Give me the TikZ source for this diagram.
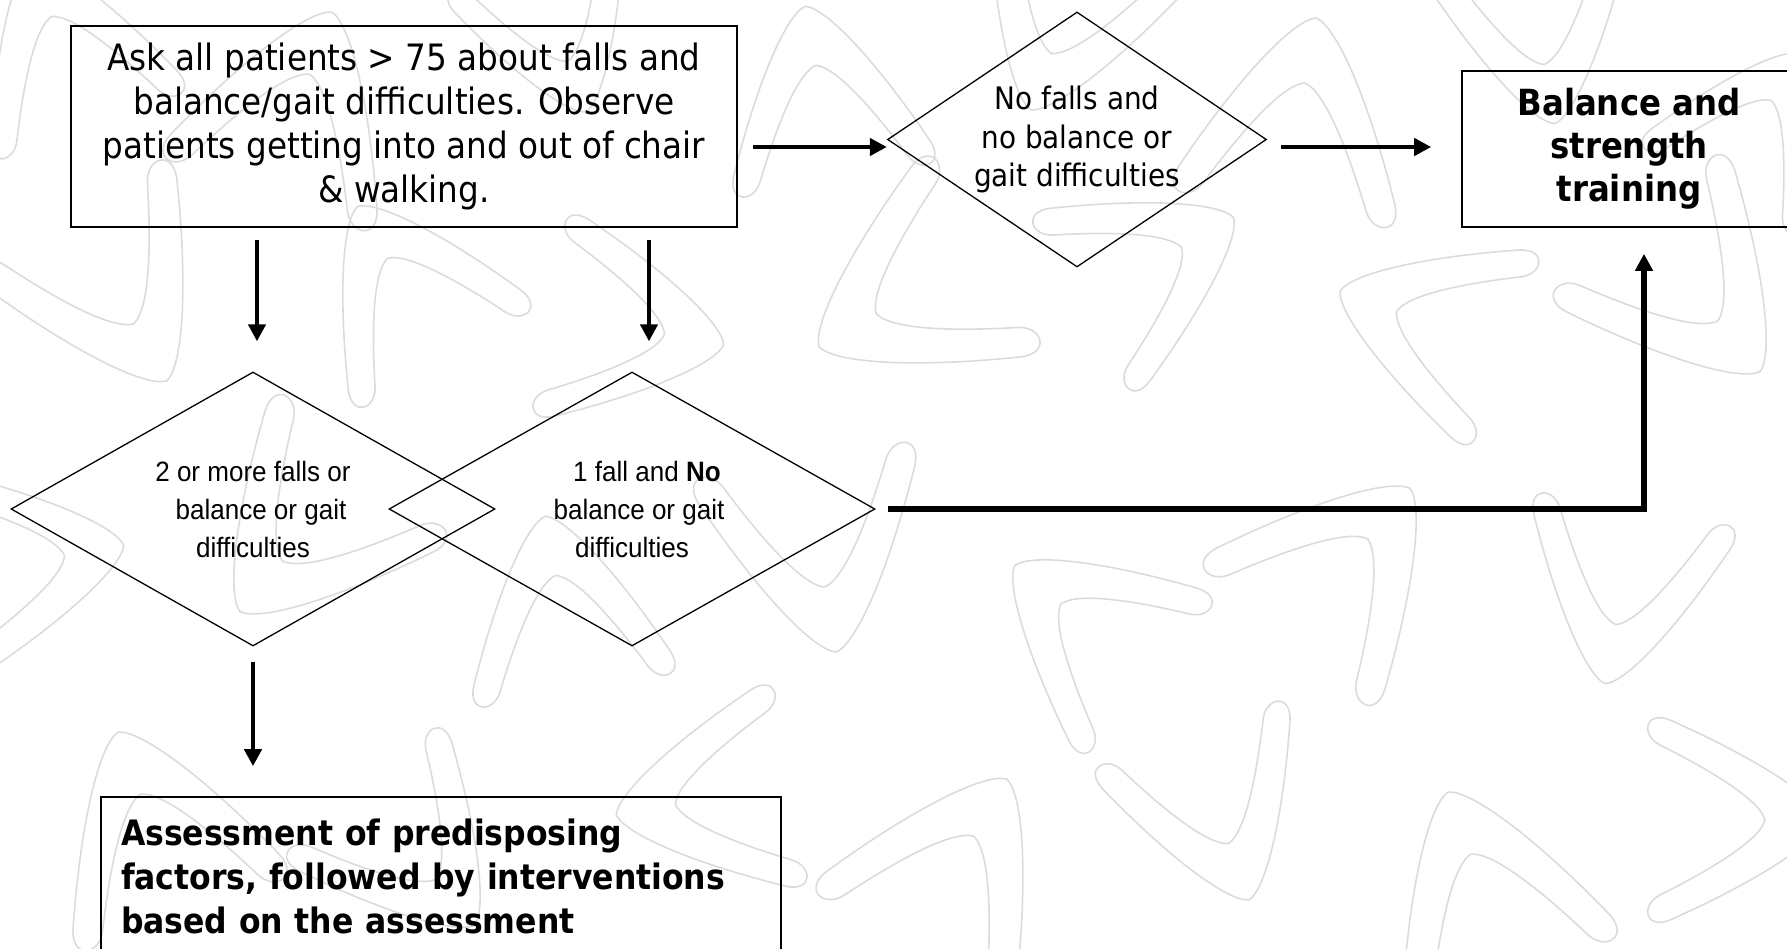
\documentclass[tikz,border=0pt]{standalone}
\usepackage{fontspec}
\setmainfont{DejaVu Sans Condensed}
\newfontfamily\arialn[FakeStretch=0.93]{Liberation Sans}
\usetikzlibrary{arrows.meta,positioning,shapes.geometric}

\tikzset{
  bgline/.style={draw=black!14,line width=1.6pt},
  boomerang/.pic={
    \path[bgline] (-100,-70) .. controls (-60,20) and (-20,80) .. (0,85)
      .. controls (20,80) and (60,20) .. (100,-70)
      .. controls (110,-95) and (85,-100) .. (75,-80)
      .. controls (50,-30) and (20,20) .. (0,25)
      .. controls (-20,20) and (-50,-30) .. (-75,-80)
      .. controls (-85,-100) and (-110,-95) .. (-100,-70) -- cycle;
  }
}

\begin{document}
\begin{tikzpicture}[
  x=1pt,y=-1pt,
  box/.style={draw,line width=2pt,align=center,inner sep=0pt},
  decision/.style={draw,diamond,line width=1.3pt,align=center,inner sep=0pt,aspect=1.5},
  arr/.style={->,line width=4.5pt},
  thickarr/.style={->,line width=5.5pt},
  >={Triangle[length=17pt,width=17pt]}
]
\useasboundingbox (0,0) rectangle (1787,949);

% background pattern
\foreach \bx/\by/\ang/\sc in {60/40/200/1.0,300/100/160/1.1,560/40/20/0.9,820/90/190/1.0,
  1060/30/340/1.0,1300/110/170/1.1,1540/40/10/1.0,1760/120/150/0.9,
  120/300/30/1.1,400/280/210/1.0,640/330/80/1.0,900/300/300/1.1,1160/260/120/1.0,
  1420/320/250/1.0,1700/300/40/1.1,40/560/100/1.0,300/540/320/1.1,560/600/190/1.0,
  820/560/10/1.1,1080/620/230/1.0,1350/560/140/1.1,1620/600/350/1.0,
  150/820/200/1.1,420/860/40/1.0,700/800/280/1.0,960/860/150/1.1,1220/820/20/1.0,
  1480/880/200/1.1,1740/820/90/1.0}
  \pic[rotate=\ang,scale=\sc] at (\bx,\by) {boomerang};

% boxes and decisions
\node[box,minimum width=666pt,minimum height=201pt,font=\fontsize{36.3}{44}\selectfont] (ask) at (404,126.5)
  {Ask all patients > 75 about falls and\\balance/gait difficulties. Observe\\patients getting into and out of chair\\\& walking.};
\node[decision,minimum width=379pt,minimum height=255pt,font=\fontsize{31}{38.5}\selectfont] (nofalls) at (1077,139.5)
  {No falls and\\no balance or\\gait difficulties};
\node[box,line width=1.6pt,minimum width=334pt,minimum height=156pt,font=\fontsize{36}{43}\selectfont\bfseries] (train) at (1629,149)
  {Balance and\\strength\\training};
\node[decision,minimum width=484pt,minimum height=274pt,font=\arialn\fontsize{28}{38}\selectfont] (twomore) at (253,509)
  {2 or more falls or\\\hspace*{16pt}balance or gait\\difficulties};
\node[decision,minimum width=486pt,minimum height=274pt,font=\arialn\fontsize{28}{38}\selectfont] (onefall) at (632,509)
  {\hspace*{30pt}1 fall and \textbf{No}\\\hspace*{14pt}balance or gait\\difficulties};
\node[box,line width=1.6pt,minimum width=680pt,minimum height=158pt,text width=640pt,align=left,
  font=\fontsize{35}{44}\selectfont\bfseries] (assess) at (441,876)
  {Assessment of predisposing\\factors, followed by interventions\\based on the assessment};

% connectors
\coordinate (intoNo) at ([yshift=-7.5pt]nofalls.west);
\coordinate (outNo) at ([yshift=-7.5pt]nofalls.east);
\draw[arr,shorten <=15pt] (ask.east |- intoNo) -- (intoNo);
\draw[arr,shorten <=14pt,shorten >=30pt] (outNo) -- (train.west |- outNo);
\draw[arr,shorten <=12pt,shorten >=30pt] ([xshift=187pt]ask.south west) -- ([xshift=187pt]ask.south west |- twomore.north);
\draw[arr,shorten <=12pt,shorten >=30pt] ([xshift=579pt]ask.south west) -- ([xshift=579pt]ask.south west |- onefall.north);
\draw[thickarr,shorten <=12pt,shorten >=26pt] (onefall.east) -| ([xshift=15pt]train.south);
\draw[arr,shorten <=15pt,shorten >=30pt] (twomore.south) -- (twomore.south |- assess.north);
\end{tikzpicture}
\end{document}
